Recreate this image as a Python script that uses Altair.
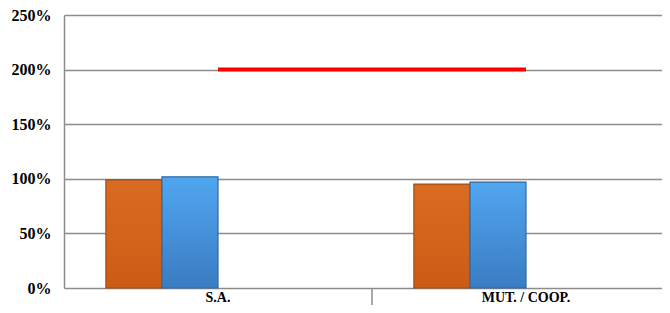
import altair as alt
import pandas as pd

categories = ["S.A.", "MUT. / COOP."]
series_orange = [0.99, 0.952]
series_blue = [1.018, 0.97]
threshold = [2.0, 2.0]
y_ticks = [0, 0.5, 1.0, 1.5, 2.0, 2.5]

W, H = 598, 273
PX_PER_CAT = 308
x_max = W / PX_PER_CAT
SERIF = "'Liberation Serif', 'Times New Roman', serif"

bars = pd.DataFrame({
    "cat": categories * 2,
    "idx": [0, 1, 0, 1],
    "slot": [0, 0, 1, 1],
    "series": ["A", "A", "B", "B"],
    "value": series_orange + series_blue,
})
line_df = pd.DataFrame({"idx": [0, 1], "value": threshold})
labels_df = pd.DataFrame({"idx": [0, 1], "cat": categories})
div_df = pd.DataFrame({"pos": [1]})

xscale = alt.Scale(domain=[0, x_max], nice=False, zero=False)
yscale = alt.Scale(domain=[0, 2.5], nice=False)

yaxis = alt.Axis(values=y_ticks, format=".0%", title=None, ticks=False,
                 labelFont=SERIF, labelFontWeight="bold",
                 labelFontSize=16, labelColor="#000000", labelPadding=13,
                 domainColor="#8c8c8c", domainWidth=1.5,
                 gridColor="#8c8c8c", gridWidth=1.5, gridOpacity=1)

base_bars = alt.Chart(bars).transform_calculate(
    x0=alt.datum.idx + 0.136 + alt.datum.slot * 0.182,
    x1=alt.datum.idx + 0.136 + (alt.datum.slot + 1) * 0.182,
)


def grad(top, bottom):
    return alt.Gradient(gradient="linear",
                        stops=[alt.GradientStop(color=top, offset=0),
                               alt.GradientStop(color=bottom, offset=1)],
                        x1=0, x2=0, y1=0, y2=1)


enc = dict(
    x=alt.X("x0:Q", scale=xscale, axis=None),
    x2="x1:Q",
    y=alt.Y("value:Q", scale=yscale, axis=yaxis),
    y2=alt.datum(0),
)

orange_layer = base_bars.transform_filter(alt.datum.series == "A").mark_bar(
    color=grad("#D96C20", "#CB5C16"), stroke="#A34A12", strokeWidth=1.2
).encode(**enc)

blue_layer = base_bars.transform_filter(alt.datum.series == "B").mark_bar(
    color=grad("#50A6F0", "#3A7CC2"), stroke="#2F6AA3", strokeWidth=1.2
).encode(**enc)

line_layer = alt.Chart(line_df).transform_calculate(
    xc=alt.datum.idx + 0.5
).mark_line(color="#FF0000", strokeWidth=4).encode(
    x=alt.X("xc:Q", scale=xscale),
    y=alt.Y("value:Q", scale=yscale),
)

label_layer = alt.Chart(labels_df).transform_calculate(
    xc=alt.datum.idx + 0.5
).mark_text(font=SERIF, fontWeight="bold", fontSize=14, baseline="middle",
            color="#000000").encode(
    x=alt.X("xc:Q", scale=xscale),
    y=alt.value(H + 10),
    text="cat:N",
)

div_layer = alt.Chart(div_df).mark_rule(color="#8c8c8c", strokeWidth=1.5).encode(
    x=alt.X("pos:Q", scale=xscale),
    y=alt.value(H),
    y2=alt.value(H + 17),
)

chart = alt.layer(orange_layer, blue_layer, line_layer, div_layer, label_layer).properties(
    width=W, height=H,
    autosize=alt.AutoSizeParams(type="none"),
    padding={"left": 56, "top": 7, "right": 0, "bottom": 17},
).configure_view(stroke=None).configure(background="#ffffff")

chart.save("out.html", embed_options={"renderer": "svg", "actions": False})
